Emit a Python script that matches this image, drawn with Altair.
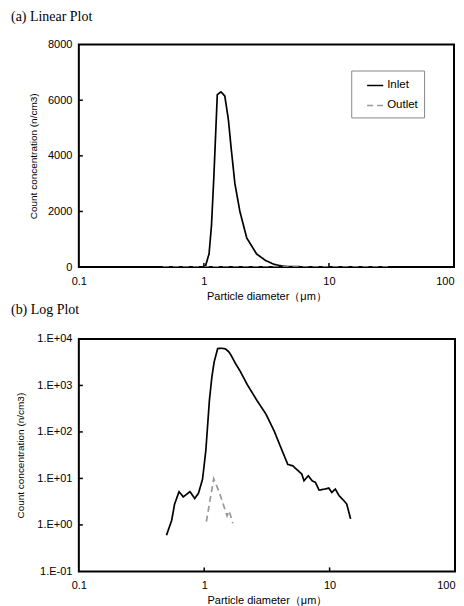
import altair as alt
import pandas as pd

series_names = ["Inlet", "Outlet"]
series_colors = ["#000000", "#999999"]

inlet_d = [0.50, 0.55, 0.58, 0.63, 0.68, 0.77, 0.84, 0.90, 0.97, 1.03, 1.10, 1.15,
           1.20, 1.28, 1.37, 1.47, 1.57, 1.65, 1.77, 1.94, 2.20, 2.64, 3.11, 3.61,
           4.19, 4.64, 5.08, 5.55, 6.00, 6.25, 6.76, 7.26, 7.71, 8.24, 9.12, 9.85,
           10.4, 11.1, 11.9, 12.9, 13.7, 14.7]
inlet_c = [0.6, 1.25, 2.8, 5.2, 4.0, 5.2, 3.7, 4.8, 9.7, 40, 480, 1500,
           3200, 6200, 6300, 6150, 5300, 4300, 3000, 2000, 1050, 470, 240, 105,
           39, 20, 18.7, 15, 12.4, 8.9, 11.4, 8.9, 8.2, 5.6, 5.9, 6.2,
           5.0, 5.9, 4.25, 3.4, 2.8, 1.35]

outlet_d = [0.47, 0.97, 1.04, 1.19, 1.31, 1.52, 1.58, 1.69, 1.77, 29.6]
outlet_c = [0, 0, 1.18, 9.8, 5.3, 1.56, 2.0, 1.09, 0, 0]

x_ticks = [0.1, 1, 10, 100]
x_inner_ticks = [1, 10]
lin_y_ticks = [0, 2000, 4000, 6000, 8000]
log_y_ticks = [0.1, 1, 10, 100, 1000, 10000]

df = pd.DataFrame({
    "d": inlet_d + outlet_d,
    "c": inlet_c + outlet_c,
    "series": ["Inlet"] * len(inlet_d) + ["Outlet"] * len(outlet_d),
})

FONT = "Liberation Sans"
XTITLE = "Particle diameter（μm）"
YTITLE = "Count concentration (n/cm3)"

log_label = ("'1.E' + (datum.value < 1 ? '-' : '+') + "
             "(abs(round(log(datum.value)/LN10)) < 10 ? '0' : '') + "
             "abs(round(log(datum.value)/LN10))")


def panel(title, w, h, ylog, lx, ly, toff):
    xscale = alt.Scale(type="log", domain=[0.1, 100], nice=False)
    if ylog:
        yscale = alt.Scale(type="log", domain=[0.1, 10000], nice=False)
        yaxis = alt.Axis(values=log_y_ticks, labelExpr=log_label, title=YTITLE,
                         ticks=False, labelPadding=7, titlePadding=11)
        inner_y = log_y_ticks[1:-1]
    else:
        yscale = alt.Scale(domain=[0, 8000], nice=False)
        yaxis = alt.Axis(values=lin_y_ticks, format="d", title=YTITLE, ticks=False,
                         labelPadding=7, titlePadding=9)
        inner_y = lin_y_ticks[1:-1]
    xaxis = alt.Axis(values=x_ticks, title=XTITLE, ticks=False, labelFlush=False,
                     labelBound=False, labelPadding=8, titlePadding=4,
                     labelAlign={"expr": "datum.value >= 100 ? 'right' : 'center'"},
                     labelExpr="datum.value < 1 ? '0.1' : format(datum.value, 'd')")

    leg = alt.Legend(title=None, orient="none", legendX=lx, legendY=ly,
                     symbolType="stroke", symbolSize=260, symbolStrokeWidth=1.6,
                     symbolOffset=9,
                     labelFont=FONT, labelFontSize=11.5, labelColor="black",
                     padding=6, rowPadding=5, strokeColor="#888888",
                     fillColor="white", labelOffset=3)
    base = alt.Chart(df)
    if ylog:
        base = base.transform_filter("datum.c > 0")
    line = base.mark_line(strokeWidth=1.7, clip=True).encode(
        x=alt.X("d:Q", scale=xscale, axis=xaxis),
        y=alt.Y("c:Q", scale=yscale, axis=yaxis),
        color=alt.Color("series:N", scale=alt.Scale(domain=series_names, range=series_colors), legend=leg),
        strokeDash=alt.StrokeDash("series:N", scale=alt.Scale(domain=series_names, range=[[1, 0], [6, 4]]), legend=leg),
    )
    xt = alt.Chart(pd.DataFrame({"d": x_inner_ticks})).mark_rule(color="black", strokeWidth=1.5).encode(
        x=alt.X("d:Q", scale=xscale, axis=xaxis),
        y=alt.value(h), y2=alt.value(h - 4),
    )
    yt = alt.Chart(pd.DataFrame({"c": inner_y})).mark_rule(color="black", strokeWidth=1.5).encode(
        y=alt.Y("c:Q", scale=yscale, axis=yaxis),
        x=alt.value(0), x2=alt.value(4),
    )
    return alt.layer(line, xt, yt).properties(
        width=w, height=h,
        title=alt.TitleParams(title, anchor="start", frame="group", font="Liberation Serif",
                              fontSize=14, fontWeight="normal", color="black", dx=-68, offset=toff),
    )


top = panel("(a) Linear Plot", 376, 223, False, 273, 26, 15)
bottom = panel("(b) Log Plot", 377, 233, True, 271, 25, 16)

chart = alt.vconcat(top, bottom, spacing=0).configure(
    padding={"left": 2, "top": 0, "right": 0, "bottom": 0}
).configure_view(
    stroke="black", strokeWidth=2
).configure_axis(
    domain=False, grid=False, labelFont=FONT, labelFontSize=11, labelColor="black",
    titleFont=FONT, titleFontSize=11, titleFontWeight="normal", titleColor="black",
).configure_axisY(
    titleFontSize=10
)

chart.save("out.html", embed_options={"renderer": "svg", "actions": False})
